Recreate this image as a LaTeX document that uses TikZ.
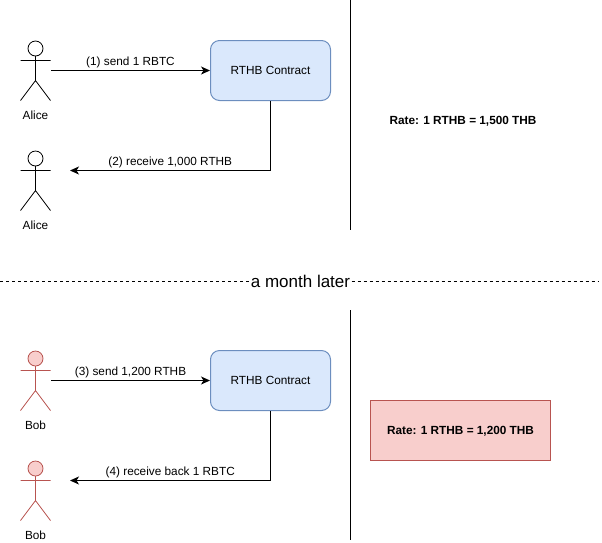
\documentclass[tikz,border=0pt]{standalone}
\usepackage{fontspec}
\setmainfont{Liberation Sans}
\usetikzlibrary{arrows.meta,positioning,calc}

\definecolor{boxblue}{HTML}{DAE8FC}
\definecolor{edgeblue}{HTML}{6C8EBF}
\definecolor{boxred}{HTML}{F8CECC}
\definecolor{edgered}{HTML}{B85450}

\tikzset{
  contract/.style={draw=edgeblue, fill=boxblue, rounded corners=9pt, minimum width=120pt, minimum height=60pt, inner sep=0pt, font=\fontsize{11.8}{13}\selectfont},
  flow/.style={-{Stealth[length=9pt,width=8pt,inset=2.5pt]}, line width=1pt},
  msg/.style={above, inner sep=0pt, yshift=2pt, font=\fontsize{11.8}{13}\selectfont},
  rate/.style={inner sep=0pt, text depth=0pt, font=\fontsize{11.8}{13}\selectfont\bfseries},
  divider/.style={line width=1pt},
  actor/.pic={
    \node[minimum width=30pt, minimum height=60pt, inner sep=0pt] (-box) at (0,0) {};
    \draw[pic actions, line width=0.8pt] (0,-22) circle (7.5);
    \draw[pic actions, fill=none, line width=0.8pt] (0,-14.5) -- (0,10) (-15,-10) -- (15,-10) (-15,30) -- (0,10) -- (15,30);
    \node[inner sep=0pt, font=\fontsize{11.8}{13}\selectfont] (-name) at (0,44.5) {\tikzpictext};
  },
}

\begin{document}
\begin{tikzpicture}[x=1pt, y=-1pt, line width=1pt]
  \useasboundingbox (0,0) rectangle (602,542);

  % before
  \pic[draw=black, fill=white, pic text={Alice}] (aliceA) at (35.5,70.5) {actor};
  \pic[draw=black, fill=white, pic text={Alice}] (aliceB) at (35.5,180.5) {actor};
  \node[contract] (contractA) at (270.5,70.5) {RTHB Contract};
  \coordinate (backA) at (70,170.5);
  \draw[flow] (aliceA-box.east) -- node[msg] {(1) send 1 RBTC} (contractA.west);
  \draw[flow] (contractA.south) |- node[msg, pos=0.75] {(2) receive 1,000 RTHB} (backA);
  \coordinate (ruleAtop) at (350.5,0);
  \coordinate (ruleAend) at (350.5,230);
  \draw[divider] (ruleAtop) -- (ruleAend);
  \node[rate] (rateA) at (463,120.5) {Rate: 1 RTHB = 1,500 THB};

  % a month later
  \coordinate (dashL) at (0,281);
  \coordinate (dashR) at (598,281);
  \node[fill=white, inner xsep=1pt, inner ysep=1pt, font=\fontsize{17}{19}\selectfont] (later) at (300.5,281) {a month later};
  \draw[dashed, line width=0.8pt, dash pattern=on 3pt off 3pt] (dashL) -- (later.west) (later.east) -- (dashR);

  % after
  \pic[draw=edgered, fill=boxred, pic text={Bob}] (bobA) at (35.5,380.5) {actor};
  \pic[draw=edgered, fill=boxred, pic text={Bob}] (bobB) at (35.5,490.5) {actor};
  \node[contract] (contractB) at (270.5,380.5) {RTHB Contract};
  \coordinate (backB) at (70,480.5);
  \draw[flow] (bobA-box.east) -- node[msg] {(3) send 1,200 RTHB} (contractB.west);
  \draw[flow] (contractB.south) |- node[msg, pos=0.75] {(4) receive back 1 RBTC} (backB);
  \coordinate (ruleBtop) at (350.5,310);
  \coordinate (ruleBend) at (350.5,540);
  \draw[divider] (ruleBtop) -- (ruleBend);
  \node[rate, draw=edgered, fill=boxred, minimum width=180pt, minimum height=60pt] (rateB) at (460.5,430.5) {Rate: 1 RTHB = 1,200 THB};
\end{tikzpicture}
\end{document}
